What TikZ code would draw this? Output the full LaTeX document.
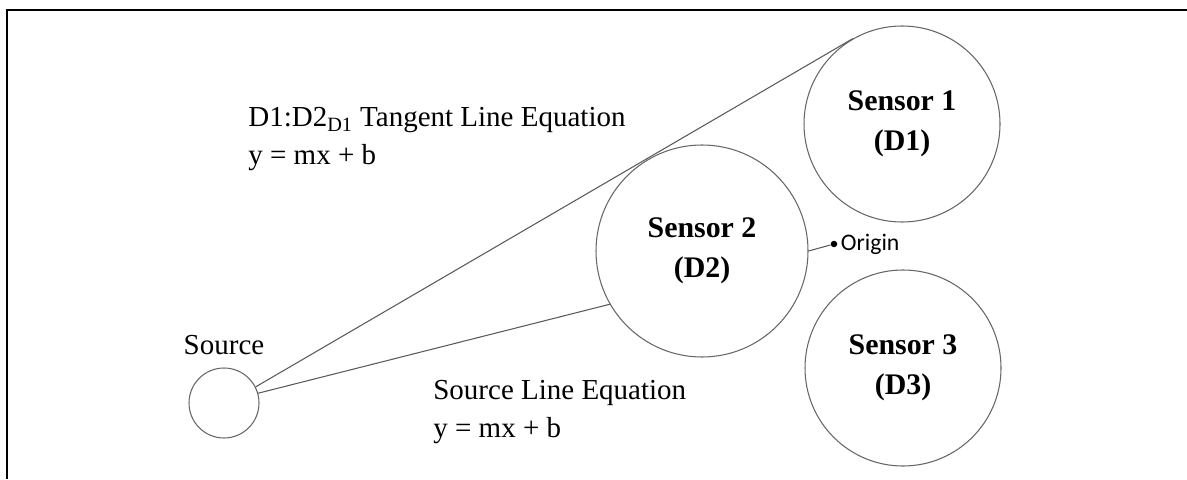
\documentclass[tikz,border=0pt]{standalone}
\usepackage{fontspec}
\setmainfont{Liberation Serif}
\newfontfamily\calibri{Carlito}
\usetikzlibrary{positioning}

\tikzset{
  sensor/.style={circle, draw=black!60, line width=0.6pt, inner sep=0pt, align=center,
    font=\fontsize{17}{23}\selectfont\bfseries},
  lbl/.style={inner sep=0pt, align=left, font=\fontsize{16.5}{21.5}\selectfont},
  wire/.style={draw=black!65, line width=0.6pt}
}

\begin{document}
\begin{tikzpicture}
\useasboundingbox (0,0) rectangle (23.74,9.58);

% Frame
\draw[line width=1.2pt] (0.14,0) -- (0.14,9.38) -- (23.74,9.38);

% Sensors and source
\node[sensor, minimum size=3.92cm] (d1) at (18.04,7.10) {Sensor 1\\(D1)};
\node[sensor, minimum size=4.24cm] (d2) at (14.04,4.56) {Sensor 2\\(D2)};
\node[sensor, minimum size=3.92cm] (d3) at (18.06,2.22) {Sensor 3\\(D3)};
\node[sensor, minimum size=1.4cm] (src) at (4.48,1.52) {};
\node[lbl, above=0.24cm of src] (srclbl) {Source};

% Lines
\draw[wire] (src.27) -- (d1.120);
\draw[wire] (src.16) -- (d2.210);

% Origin
\node[circle, fill, inner sep=0pt, minimum size=0.13cm] (org) at (16.68,4.70) {};
\node[right=0.06cm of org, inner sep=0pt, font=\calibri\fontsize{13.5}{16}\selectfont] (orglbl) {Origin};
\draw[wire] (d2.east) -- (org);

% Equations
\node[lbl, anchor=north west] (tanlbl) at (4.96,7.44) {D1:D2\textsubscript{D1} Tangent Line Equation\\y = mx + b};
\node[lbl, anchor=north west] (srceq) at (8.66,1.98) {Source Line Equation\\y = mx + b};
\end{tikzpicture}
\end{document}
